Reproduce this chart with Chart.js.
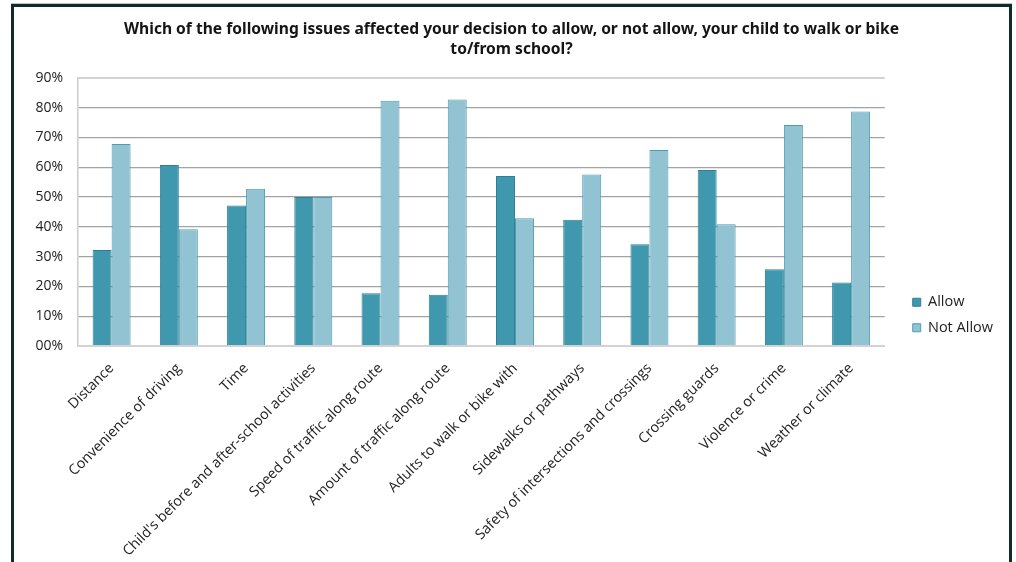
<!DOCTYPE html>
<html>
<head>
<meta charset="utf-8">
<script src="https://cdn.jsdelivr.net/npm/chart.js@4/dist/chart.umd.min.js"></script>
<style>
  html, body { margin: 0; padding: 0; background: #ffffff; }
  #wrap { position: relative; width: 1016px; height: 562px; overflow: hidden; }
  #chart { position: absolute; left: 0; top: 0; }
  #frame {
    position: absolute; left: 11px; top: 4px; width: 995px; height: 600px;
    border-top: 3px solid #0e2b2a; border-left: 3px solid #0e2b2a; border-right: 3px solid #0e2b2a;
    box-shadow: 0 -1px 0 #b9c4c4;
    pointer-events: none;
  }
</style>
</head>
<body>
<div id="wrap">
  <canvas id="chart" width="1016" height="562"></canvas>
  <div id="frame"></div>
</div>
<script>
// Survey answers: share of parents (percent) by issue
const categories = [
  "Distance",
  "Convenience of driving",
  "Time",
  "Child's before and after-school activities",
  "Speed of traffic along route",
  "Amount of traffic along route",
  "Adults to walk or bike with",
  "Sidewalks or pathways",
  "Safety of intersections and crossings",
  "Crossing guards",
  "Violence or crime",
  "Weather or climate"
];
const allowValues    = [32.2, 60.8, 47.2, 50.0, 17.7, 17.2, 57.1, 42.4, 34.2, 59.1, 25.8, 21.3];
const notAllowValues = [67.8, 39.2, 52.8, 50.0, 82.3, 82.8, 42.9, 57.6, 65.8, 40.9, 74.2, 78.7];
const seriesNames = ["Allow", "Not Allow"];
const titleLines = [
  "Which of the following issues affected your decision to allow, or not allow, your child to walk or bike",
  "to/from school?"
];
const yTicks = [0, 10, 20, 30, 40, 50, 60, 70, 80, 90];

const FONT = "'Open Sans', 'Noto Sans', sans-serif";

new Chart(document.getElementById('chart'), {
  type: 'bar',
  data: {
    labels: categories,
    datasets: [
      {
        label: seriesNames[0],
        data: allowValues,
        backgroundColor: '#3f98ad',
        borderColor: '#2c8195',
        borderWidth: 1,
        yAxisID: 'y'
      },
      {
        label: seriesNames[1],
        data: notAllowValues,
        backgroundColor: '#92c3d3',
        borderColor: '#4c9db1',
        borderWidth: 1,
        yAxisID: 'y'
      }
    ]
  },
  options: {
    responsive: false,
    devicePixelRatio: 1,
    animation: false,
    layout: { padding: { left: 20, top: 0, right: 13, bottom: 0 } },
    datasets: { bar: { categoryPercentage: 0.565, barPercentage: 1.0 } },
    plugins: {
      title: {
        display: true,
        text: titleLines,
        color: '#151515',
        font: { family: "'Noto Sans', sans-serif", size: 15.6, weight: 'bold', lineHeight: 1.28 },
        padding: { top: 20, bottom: 18 }
      },
      legend: {
        display: true,
        position: 'right',
        align: 'end',
        fullSize: false,
        labels: {
          boxWidth: 8,
          boxHeight: 8,
          padding: 11,
          color: '#222222',
          font: { family: FONT, size: 14.5 }
        }
      },
      tooltip: { enabled: false }
    },
    scales: {
      y: {
        position: 'left',
        min: 0,
        max: 90,
        afterBuildTicks: (s) => { s.ticks = yTicks.map(v => ({ value: v })); },
        afterFit: (s) => { s.width = 58; },
        ticks: {
          padding: 15,
          color: '#222222',
          font: { family: FONT, size: 14 },
          callback: (v) => (v === 0 ? '00' : String(v)) + '%'
        },
        grid: {
          drawTicks: false,
          color: (c) => (c.tick && (c.tick.value === 90 || c.tick.value === 0)) ? '#d2d2d2' : '#a3a3a3',
          lineWidth: (c) => (c.tick && (c.tick.value === 90 || c.tick.value === 0)) ? 2 : 1.2
        },
        border: { display: true, color: '#cccccc', width: 1.5 }
      },
      gap: {
        type: 'linear',
        position: 'right',
        display: true,
        afterFit: (s) => { s.width = 17; },
        ticks: { display: false },
        grid: { display: false, drawTicks: false },
        border: { display: false }
      },
      x: {
        afterFit: (s) => { s.height = 216; },
        ticks: {
          autoSkip: false,
          maxRotation: 45,
          minRotation: 45,
          padding: 14,
          color: '#222222',
          font: { family: FONT, size: 14.3 }
        },
        grid: { display: false, drawTicks: false },
        border: { display: true, color: '#d2d2d2', width: 2 }
      }
    }
  }
});
</script>
</body>
</html>
